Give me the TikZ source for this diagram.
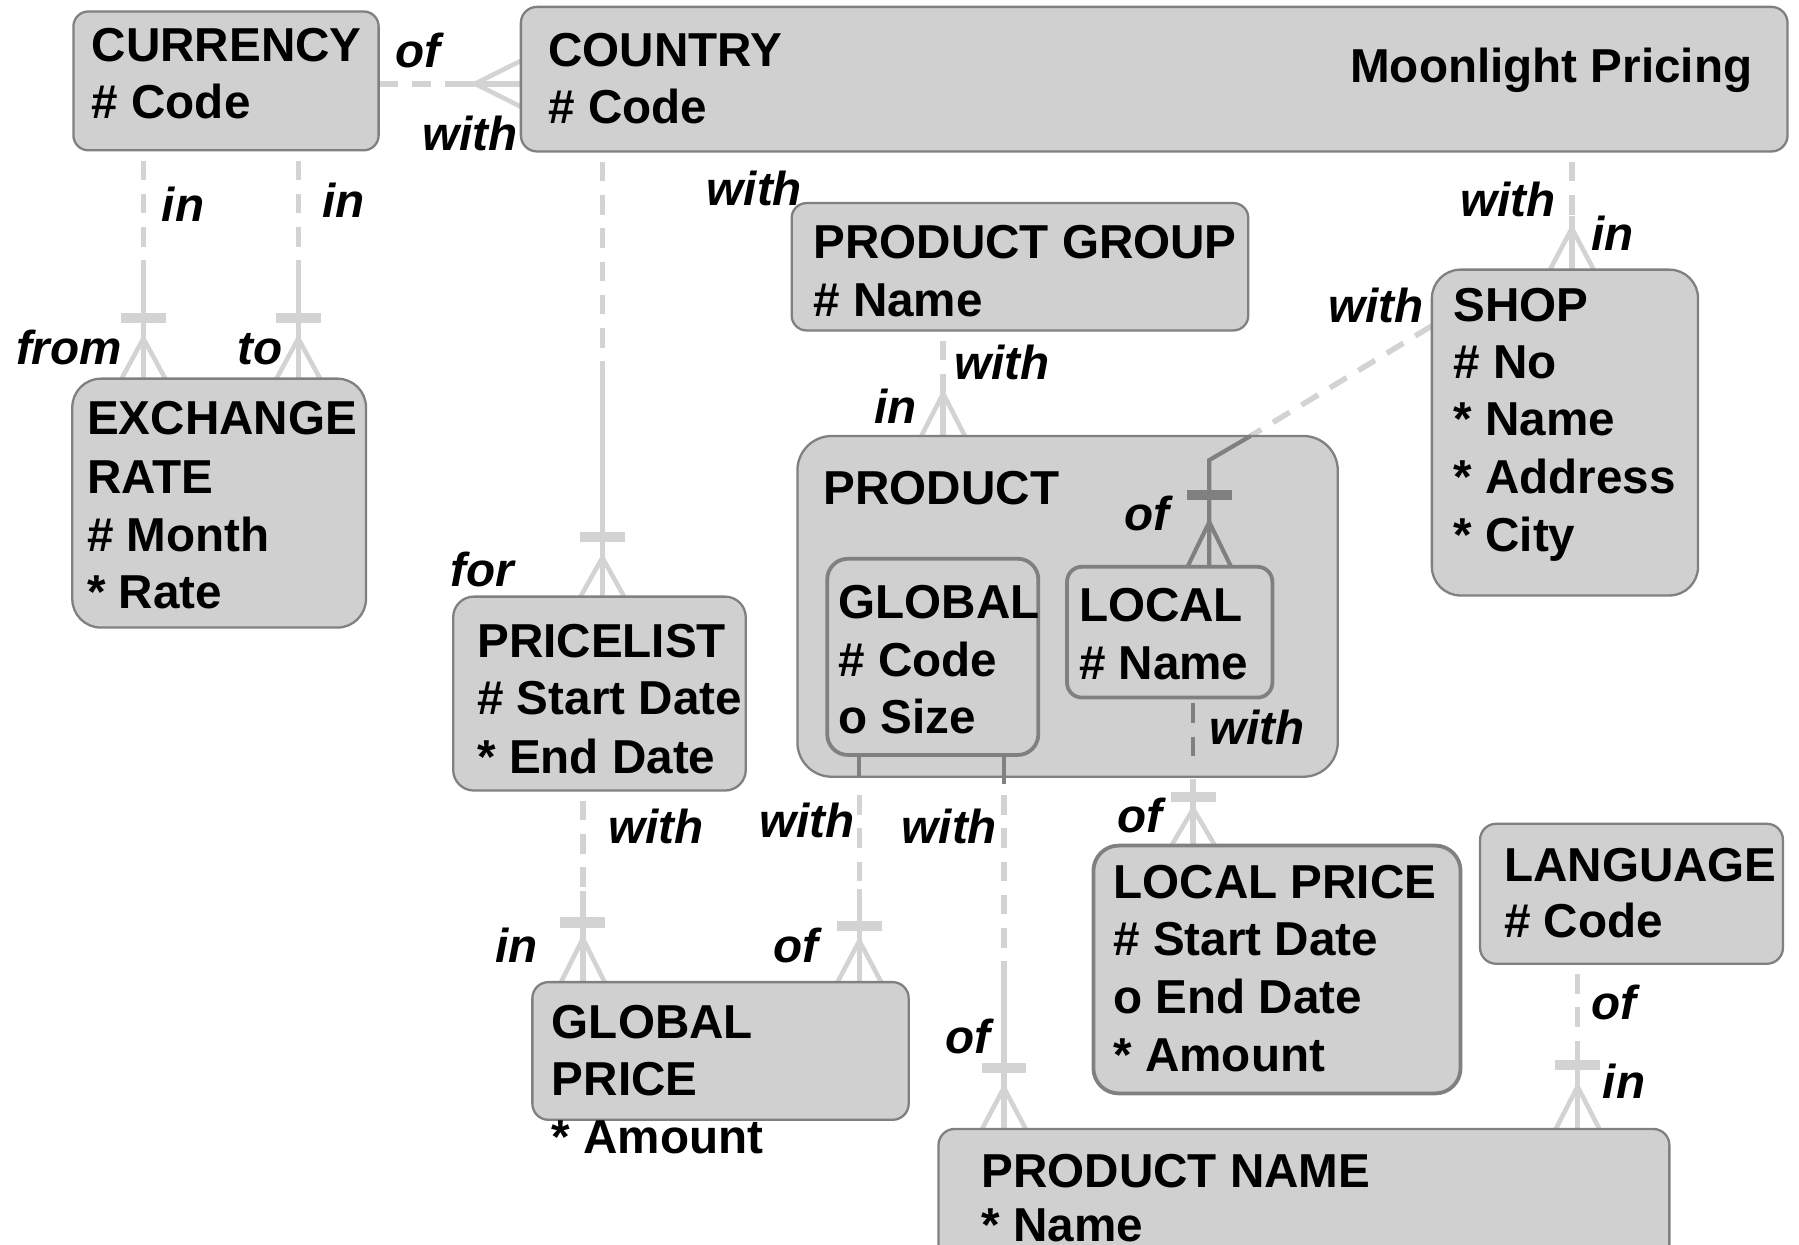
\documentclass[tikz,border=0pt]{standalone}
\usepackage{fontspec}
\setmainfont{Liberation Sans}
\usetikzlibrary{calc}

\definecolor{boxfill}{RGB}{208,208,208}
\definecolor{boxline}{RGB}{128,128,128}
\definecolor{relc}{RGB}{211,211,211}
\definecolor{reldark}{RGB}{128,128,128}

\pgfdeclarelayer{bg}
\pgfsetlayers{bg,main}

\newcommand\efont{\fontsize{41.5}{50}\selectfont\bfseries}
\newcommand\lfont{\fontsize{41.5}{50}\selectfont\bfseries\itshape}

% entity box: [style]{name}{x1}{y1}{x2}{y2}{corner radius}
\newcommand\entity[7][ent]{%
  \node[#1, rounded corners=#7pt, minimum width={#5pt-#3pt},
        minimum height={#6pt-#4pt}] (#2) at (#3,#4) {};}
% one line of entity text: {name}{x}{baseline}{text}
\newcommand\tline[4]{\node[txt] (#1) at (#2,#3) {#4};}
% relationship label: {name}{x}{baseline}{text}
\newcommand\rlab[4]{\node[lab] (#1) at (#2,#3) {#4};}
% vertical relationship, dashed half then solid half, ending in a crow's foot
% {start}{end}{bar offset, 0 = none}{crow depth}
\newcommand\vlink[4]{%
  \path #1 coordinate (vs);
  \path #2 coordinate (ve);
  \path ($(vs)!.5!(ve)$) coordinate (vm);
  \draw[reldash] (vs) -- (vm);
  \draw[rel] (vm) -- (ve);
  \ifnum#3>0 \draw[relbar] ($(ve)+(-19.5,-#3)$) -- ($(ve)+(19.5,-#3)$);\fi
  \draw[relleg] ($(ve)+(-19,0)$) -- ($(ve)+(0,-#4)$) -- ($(ve)+(19,0)$);}

\begin{document}
\begin{tikzpicture}[x=1pt,y=-1pt,
  ent/.style={draw=boxline, fill=boxfill, line width=2pt, inner sep=0pt,
              outer sep=0pt, anchor=north west},
  entthick/.style={ent, line width=3.3pt},
  txt/.style={anchor=base west, inner sep=0pt, outer sep=0pt, font=\efont},
  lab/.style={anchor=base west, inner sep=0pt, outer sep=0pt, font=\lfont},
  rel/.style={draw=relc, line width=4.8pt},
  reldash/.style={rel, dash pattern=on 17pt off 12pt},
  relbar/.style={draw=relc, line width=9pt},
  relleg/.style={draw=relc, line width=4pt},
  drk/.style={draw=reldark, line width=3.6pt},
  drkdash/.style={drk, dash pattern=on 17pt off 12pt},
  drkbar/.style={draw=reldark, line width=9pt},
  drkleg/.style={draw=reldark, line width=3.6pt}]

\useasboundingbox (0,0) rectangle (1568,1085);

% ---------- entities ----------
\entity{cur}{64}{10}{330}{131}{13}
\entity{cty}{454}{6}{1558}{132}{14}
\entity{pg}{690}{177}{1088}{288}{13}
\entity{shop}{1248}{235}{1480}{519}{25}
\entity{xr}{63}{330}{319}{547}{25}
\entity{pl}{395}{520}{650}{689}{18}
\entity{prod}{695}{380}{1166}{677}{30}
\entity[entthick]{glob}{721}{487}{905}{658}{18}
\entity[entthick]{loc}{930}{494}{1109}{608}{13}
\entity{gp}{464}{856}{792}{976}{14}
\entity[entthick]{lp}{953}{737}{1273}{953}{22}
\entity{lang}{1290}{718}{1554}{840}{14}
\entity{pn}{818}{984}{1455}{1110}{14}

% x positions of the vertical relationship lines
\coordinate (xa) at (125,0);
\coordinate (xb) at (260,0);
\coordinate (xc) at (525,0);
\coordinate (xd) at (1370,0);
\coordinate (xe) at (822,0);
\coordinate (xf) at (508,0);
\coordinate (xg) at (749,0);
\coordinate (xh) at (875,0);
\coordinate (xi) at (1040,0);
\coordinate (xj) at (1375,0);
\coordinate (xk) at (1090,0);
\coordinate (xl) at (1054,0);
\coordinate (hy) at (0,73);
\coordinate (sy) at (0,284);
\coordinate (kink) at (1054,401);

% ---------- light relationship lines ----------
\begin{pgfonlayer}{bg}
  % CURRENCY - COUNTRY
  \path (cur.east |- hy) coordinate (a1);
  \path (cty.west |- hy) coordinate (b1);
  \path ($(a1)!.5!(b1)$) coordinate (m1);
  \draw[reldash] (a1) -- (m1);
  \draw[rel] (m1) -- (b1);
  \draw[relleg] ($(b1)+(0,-20)$) -- ($(b1)+(-40,0)$) -- ($(b1)+(0,20)$);

  % CURRENCY - EXCHANGE RATE (from / to)
  \vlink{($(cur.south -| xa)+(0,9)$)}{(xr.north -| xa)}{53}{35}
  \vlink{($(cur.south -| xb)+(0,9)$)}{(xr.north -| xb)}{53}{35}
  % COUNTRY - PRICELIST
  \vlink{($(cty.south -| xc)+(0,9)$)}{(pl.north -| xc)}{52}{34}
  % COUNTRY - SHOP
  \vlink{($(cty.south -| xd)+(0,9)$)}{(shop.north -| xd)}{0}{36}
  % PRODUCT GROUP - PRODUCT
  \vlink{($(pg.south -| xe)+(0,9)$)}{(prod.north -| xe)}{0}{37}
  % PRICELIST - GLOBAL PRICE
  \vlink{($(pl.south -| xf)+(0,9)$)}{(gp.north -| xf)}{52}{38}
  % GLOBAL - GLOBAL PRICE
  \vlink{($(prod.south -| xg)+(0,16)$)}{(gp.north -| xg)}{49}{36}
  % GLOBAL - PRODUCT NAME
  \vlink{($(prod.south -| xh)+(0,16)$)}{(pn.north -| xh)}{53}{36}
  % LANGUAGE - PRODUCT NAME
  \vlink{($(lang.south -| xj)+(0,9)$)}{(pn.north -| xj)}{56}{37}

  % LOCAL - LOCAL PRICE, outside PRODUCT
  \path ($(prod.south -| xi)+(0,2)$) coordinate (li);
  \path (lp.north -| xi) coordinate (lo);
  \draw[rel] (li) -- (lo);
  \draw[relbar] ($(lo)+(-19.5,-42.5)$) -- ($(lo)+(19.5,-42.5)$);
  \draw[relleg] ($(lo)+(-19,0)$) -- ($(lo)+(0,-32)$) -- ($(lo)+(19,0)$);

  % SHOP - LOCAL, outside PRODUCT
  \draw[reldash] (shop.west |- sy) -- (prod.north -| xk);
\end{pgfonlayer}

% ---------- relationship lines inside PRODUCT ----------
\draw[drk] (prod.north -| xk) -- (kink) -- (loc.north -| xl);
\draw[drkbar] ($(loc.north -| xl)+(-19.5,-62.5)$) -- ($(loc.north -| xl)+(19.5,-62.5)$);
\draw[drkleg] ($(loc.north -| xl)+(-19,0)$) -- ($(loc.north -| xl)+(0,-39)$) -- ($(loc.north -| xl)+(19,0)$);
\draw[drk] (glob.south -| xg) -- (prod.south -| xg);
\draw[drk] (glob.south -| xh) -- ($(prod.south -| xh)+(0,6)$);
\draw[drkdash] ($(loc.south -| xi)+(0,5)$) -- ($(prod.south -| xi)+(0,-13)$);

% ---------- entity texts ----------
\tline{cur1}{80}{54}{CURRENCY}
\tline{cur2}{80}{103}{\# Code}
\tline{cty1}{478}{58}{COUNTRY}
\tline{cty2}{478}{107.5}{\# Code}
\node[font=\efont, anchor=base east, inner sep=0pt] (title) at (1527.5,71.5) {Moonlight Pricing};
\tline{pg1}{709}{225}{PRODUCT GROUP}
\tline{pg2}{709}{276}{\# Name}
\tline{shop1}{1267}{280}{SHOP}
\tline{shop2}{1267}{330}{\# No}
\tline{shop3}{1267}{380}{* Name}
\tline{shop4}{1267}{430}{* Address}
\tline{shop5}{1267}{481}{* City}
\tline{xr1}{76}{379}{EXCHANGE}
\tline{xr2}{76}{430}{RATE}
\tline{xr3}{76}{481}{\# Month}
\tline{xr4}{76}{530}{* Rate}
\tline{pl1}{416}{573}{PRICELIST}
\tline{pl2}{416}{623}{\# Start Date}
\tline{pl3}{416}{674}{* End Date}
\tline{prod1}{718}{440}{PRODUCT}
\tline{glob1}{731}{539}{GLOBAL}
\tline{glob2}{731}{590}{\# Code}
\tline{glob3}{731}{639}{o Size}
\tline{loc1}{940.5}{542}{LOCAL}
\tline{loc2}{940.5}{592.5}{\# Name}
\tline{gp1}{481}{905}{GLOBAL}
\tline{gp2}{481}{954.5}{PRICE}
\tline{gp3}{481}{1005}{* Amount}
\tline{lp1}{970.5}{783}{LOCAL PRICE}
\tline{lp2}{970.5}{832.5}{\# Start Date}
\tline{lp3}{970.5}{883}{o End Date}
\tline{lp4}{970.5}{934}{* Amount}
\tline{lang1}{1311}{768}{LANGUAGE}
\tline{lang2}{1311}{817.5}{\# Code}
\tline{pn1}{855.5}{1035}{PRODUCT NAME}
\tline{pn2}{855.5}{1082}{* Name}

% ---------- relationship labels ----------
\rlab{l1}{345}{59}{of}
\rlab{l2}{368}{131}{with}
\rlab{l3}{141}{193}{in}
\rlab{l4}{281}{190}{in}
\rlab{l5}{14}{318}{from}
\rlab{l6}{207}{318}{to}
\rlab{l7}{616}{179}{with}
\rlab{l8}{1273}{189}{with}
\rlab{l9}{1387}{218}{in}
\rlab{l10}{1158}{281}{with}
\rlab{l11}{832}{331}{with}
\rlab{l12}{762}{369}{in}
\rlab{l13}{980}{462}{of}
\rlab{l14}{393}{511}{for}
\rlab{l15}{530}{735}{with}
\rlab{l16}{662}{730}{with}
\rlab{l17}{786}{735}{with}
\rlab{l18}{432}{839}{in}
\rlab{l19}{674}{839}{of}
\rlab{l20}{824}{918}{of}
\rlab{l21}{1054}{649}{with}
\rlab{l22}{974}{726}{of}
\rlab{l23}{1387}{889}{of}
\rlab{l24}{1397}{957}{in}
\end{tikzpicture}
\end{document}
